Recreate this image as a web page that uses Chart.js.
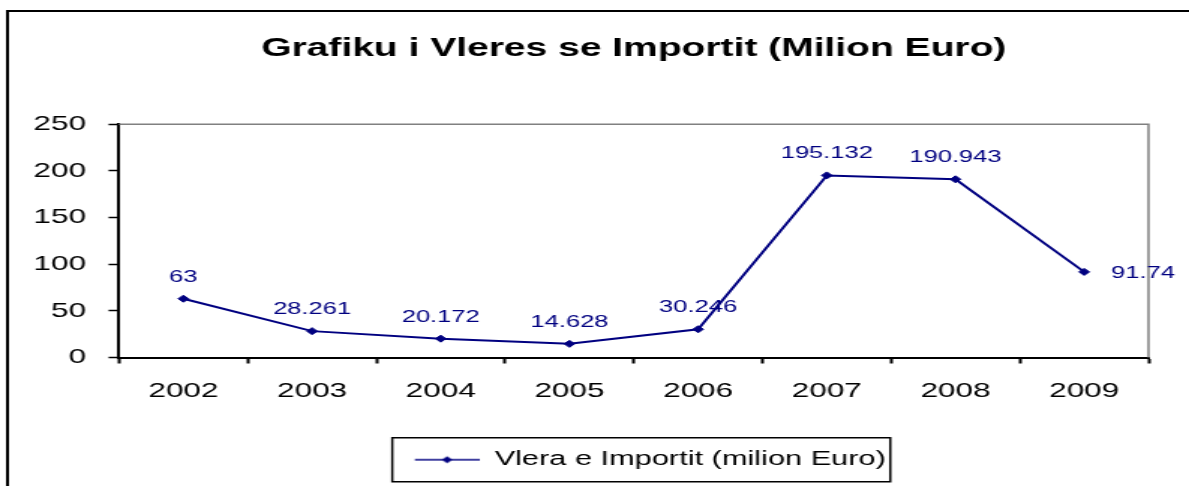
<!DOCTYPE html>
<html>
<head>
<meta charset="utf-8">
<script src="https://cdn.jsdelivr.net/npm/chart.js@4/dist/chart.umd.min.js"></script>
<style>
  html, body { margin: 0; padding: 0; background: #fff; }
</style>
</head>
<body>
<!-- the original picture is stretched sideways, so the canvas is drawn narrow and widened -->
<canvas id="chart" width="793" height="486" style="display:block;width:1189px;height:486px;"></canvas>
<script>
var years = ["2002", "2003", "2004", "2005", "2006", "2007", "2008", "2009"];
var importValues = [63, 28.261, 20.172, 14.628, 30.246, 195.132, 190.943, 91.74];
var yTicks = [0, 50, 100, 150, 200, 250];
var chartTitle = "Grafiku i Vleres se Importit (Milion Euro)";
var seriesName = "Vlera e Importit (milion Euro)";

var navy = "#000080";
var fontFamily = "'Liberation Sans', Arial, sans-serif";

// legend symbol: short line with a diamond in the middle
// (empty strip on the left pushes the legend entry a bit to the right)
var iconGap = 22;
var legendIcon = document.createElement("canvas");
legendIcon.width = 43 + iconGap;
legendIcon.height = 10;
(function(){
	var c = legendIcon.getContext("2d");
	c.strokeStyle = navy;
	c.lineWidth = 1.5;
	c.beginPath();
	c.moveTo(iconGap, 5);
	c.lineTo(iconGap + 43, 5);
	c.stroke();
	c.fillStyle = navy;
	c.beginPath();
	c.moveTo(iconGap + 21.5, 1.5);
	c.lineTo(iconGap + 25, 5);
	c.lineTo(iconGap + 21.5, 8.5);
	c.lineTo(iconGap + 18, 5);
	c.closePath();
	c.fill();
})();

var frame = {
	id: "frame",
	beforeDraw: function(chart){
		var ctx = chart.ctx;
		ctx.save();
		ctx.fillStyle = "#fff";
		ctx.fillRect(0, 0, chart.width, chart.height);
		ctx.restore();
	},
	beforeDatasetsDraw: function(chart){
		var ctx = chart.ctx, a = chart.chartArea;
		ctx.save();
		ctx.strokeStyle = "#808080";
		ctx.lineWidth = 1.5;
		ctx.beginPath();
		ctx.moveTo(a.left, a.top);
		ctx.lineTo(a.right, a.top);
		ctx.lineTo(a.right, a.bottom);
		ctx.stroke();
		ctx.restore();
	},
	afterDatasetsDraw: function(chart){
		var ctx = chart.ctx;
		var meta = chart.getDatasetMeta(0);
		var data = chart.data.datasets[0].data;
		ctx.save();
		ctx.fillStyle = navy;
		ctx.font = "17px " + fontFamily;
		meta.data.forEach(function(pt, i){
			var txt = String(data[i]);
			if (i === data.length - 1) {
				ctx.textAlign = "left";
				ctx.textBaseline = "middle";
				ctx.fillText(txt, pt.x + 18, pt.y + 1);
			} else {
				ctx.textAlign = "center";
				ctx.textBaseline = "alphabetic";
				ctx.fillText(txt, pt.x, pt.y - 17);
			}
		});
		ctx.restore();
	},
	afterDraw: function(chart){
		var ctx = chart.ctx;
		ctx.save();
		// outer frame, runs off the right and bottom edge
		ctx.strokeStyle = "#000";
		ctx.lineWidth = 2;
		ctx.strokeRect(5, 11, chart.width + 20, chart.height + 20);
		// box round the legend
		var hb = chart.legend.legendHitBoxes[0];
		if (hb) {
			var cy = hb.top + hb.height / 2;
			var left = hb.left + iconGap - 15;
			ctx.lineWidth = 1.5;
			ctx.strokeRect(left, cy - 22, hb.left + hb.width + 3 - left, 44);
		}
		ctx.restore();
	}
};

var ctx = document.getElementById("chart");

var chartdata = {
	labels: years,
	datasets: [
		{
			label: seriesName,
			data: importValues,
			fill: false,
			tension: 0,
			borderColor: navy,
			backgroundColor: navy,
			borderWidth: 2,
			pointStyle: "rectRot",
			pointRadius: 3.5,
			pointBackgroundColor: navy,
			pointBorderColor: navy,
			pointBorderWidth: 1
		}
	]
};

var LineGraph = new Chart(ctx, {
	type: "line",
	data: chartdata,
	plugins: [frame],
	options: {
		responsive: false,
		animation: false,
		devicePixelRatio: 1,
		layout: { padding: { left: 0, right: 27, top: 0, bottom: 6 } },
		plugins: {
			tooltip: { enabled: false },
			title: {
				display: true,
				text: chartTitle,
				fullSize: false,
				color: "#000",
				font: { family: fontFamily, size: 26, weight: "bold", lineHeight: 1.2 },
				padding: { top: 33, bottom: 60 }
			},
			legend: {
				display: true,
				position: "bottom",
				fullSize: false,
				labels: {
					color: "#000",
					font: { family: fontFamily, size: 20.5 },
					usePointStyle: true,
					pointStyleWidth: 43 + iconGap,
					padding: 10,
					generateLabels: function(chart){
						return [{
							text: seriesName,
							pointStyle: legendIcon,
							fillStyle: navy,
							strokeStyle: navy,
							lineWidth: 0,
							datasetIndex: 0,
							fontColor: "#000"
						}];
					}
				}
			}
		},
		scales: {
			x: {
				offset: true,
				afterFit: function(scale){ scale.height = 82; },
				grid: {
					offset: true,
					drawOnChartArea: false,
					drawTicks: true,
					tickLength: 6,
					tickWidth: 2,
					tickColor: "#000"
				},
				border: { display: true, color: "#000", width: 2 },
				ticks: {
					color: "#000",
					padding: 15,
					maxRotation: 0,
					font: { family: fontFamily, size: 21 }
				}
			},
			y: {
				min: 0,
				max: 250,
				afterFit: function(scale){ scale.width = 79.4; },
				afterBuildTicks: function(scale){
					scale.ticks = yTicks.map(function(v){ return { value: v }; });
				},
				grid: {
					drawOnChartArea: false,
					drawTicks: true,
					tickLength: 7,
					tickWidth: 1.5,
					tickColor: "#000"
				},
				border: { display: true, color: "#000", width: 2 },
				ticks: {
					color: "#000",
					padding: 15,
					font: { family: fontFamily, size: 21 }
				}
			}
		}
	}
});
</script>
</body>
</html>
